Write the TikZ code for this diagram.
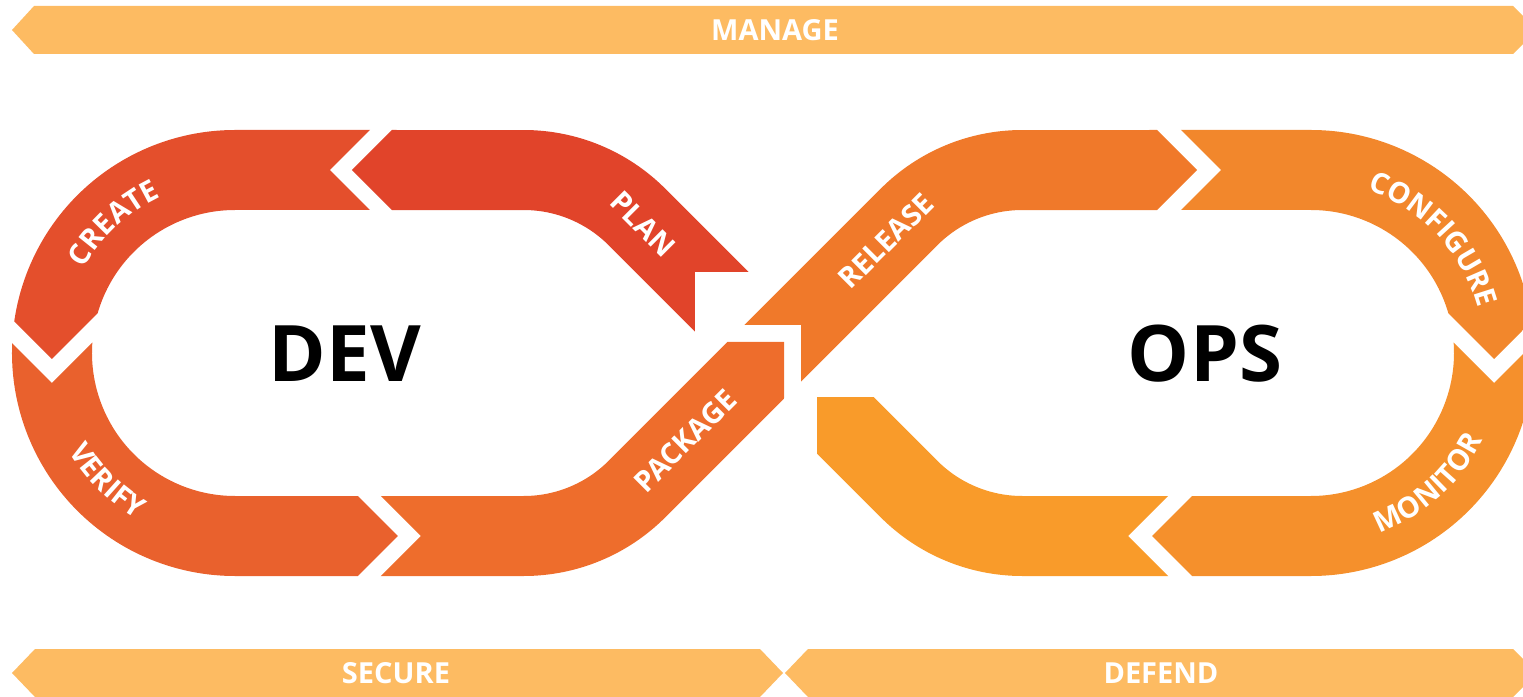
\documentclass[tikz,border=0pt]{standalone}
\usepackage{fontspec}
\setmainfont{Open Sans}
\usetikzlibrary{decorations.text}
\definecolor{cPlan}{HTML}{E1442A}
\definecolor{cCreate}{HTML}{E44F2C}
\definecolor{cVerify}{HTML}{E9612D}
\definecolor{cPackage}{HTML}{EE6D2C}
\definecolor{cRelease}{HTML}{F0792A}
\definecolor{cConfig}{HTML}{F2872C}
\definecolor{cMonitor}{HTML}{F5902C}
\definecolor{cLast}{HTML}{F99B2A}
\definecolor{cBar}{HTML}{FDBB62}
\newcommand\lblfont{\fontsize{29}{29}\selectfont\bfseries\color{white}}
\begin{document}
\begin{tikzpicture}[x=1pt,y=1pt,
  band/.style={line width=80pt},
  lbl/.style={font=\lblfont, inner sep=0pt},
  barlbl/.style={font=\fontsize{29}{29}\selectfont\bfseries, text=white, inner sep=0pt},
  big/.style={font=\fontsize{78}{78}\selectfont\bfseries, text=black, inner sep=0pt}]
\useasboundingbox (-773,-343) rectangle (750,353);
\clip (-773,-343) rectangle (750,353);
\coordinate (L) at (-538,0);
\coordinate (R) at (538,0);

% bars
\fill[cBar] (-761,323) -- (-739,347) -- (740,347) -- (764,323) -- (740,299) -- (-739,299) -- cycle;
\fill[cBar] (-761,-320) -- (-738,-296) -- (-13,-296) -- (10,-320) -- (-13,-344) -- (-738,-344) -- cycle;
\fill[cBar] (12,-320) -- (35,-296) -- (740,-296) -- (764,-320) -- (740,-344) -- (35,-344) -- cycle;
\node[barlbl] (manage) at (2,323) {MANAGE};
\node[barlbl] (secure) at (-377,-320) {SECURE};
\node[barlbl] (defend) at (388,-320) {DEFEND};

% PLAN
\begin{scope}
\clip (-78,-40) -- (-78,81) -- (40,81) -- (40,300) -- (-300,300) -- (-351,253) -- (-421,183) -- (-351,113) -- (-300,-40) -- cycle;
\draw[band, cPlan] (0,0) -- (-136.13,136.13) arc[start angle=45, end angle=90, radius=160] -- (-470,183);
\end{scope}
% CREATE
\begin{scope}
\clip (-373,113) -- (-443,183) -- (-373,253) -- (-800,253) -- (-800,64) -- (-791,64) -- (-721,-6) -- (-651,64) -- cycle;
\draw[band, cCreate] (-400,183) -- (-538,183) arc[start angle=90, end angle=200, radius=183];
\end{scope}
% VERIFY
\begin{scope}
\clip (-791,40) -- (-721,-30) -- (-651,40) -- (-445,-113) -- (-375,-183) -- (-445,-253) -- (-800,-253) -- (-800,40) -- cycle;
\draw[band, cVerify] (L) ++(165:183) arc[start angle=165, end angle=270, radius=183] -- (-330,-183);
\end{scope}
% PACKAGE
\begin{scope}
\clip (-422,-113) -- (-352,-183) -- (-422,-253) -- (11,-253) -- (11,11) -- (-88,11) -- cycle;
\draw[band, cPackage] (-400,-183) -- (-249.27,-183) arc[start angle=270, end angle=315, radius=160] -- (40,40);
\end{scope}
% RELEASE
\begin{scope}
\clip (-60,28) -- (28,28) -- (28,-60) -- (120,-60) -- (354,113) -- (424,183) -- (354,253) -- (-60,253) -- cycle;
\draw[band, cRelease] (-10,-10) -- (136.13,136.13) arc[start angle=135, end angle=90, radius=160] -- (470,183);
\end{scope}
% CONFIGURE
\begin{scope}
\clip (378,113) -- (448,183) -- (378,253) -- (800,253) -- (800,64) -- (791,64) -- (721,-6) -- (651,64) -- cycle;
\draw[band, cConfig] (400,183) -- (538,183) arc[start angle=90, end angle=-20, radius=183];
\end{scope}
% MONITOR
\begin{scope}
\clip (651,40) -- (721,-30) -- (791,40) -- (800,40) -- (800,-253) -- (449,-253) -- (379,-183) -- (449,-113) -- cycle;
\draw[band, cMonitor] (R) ++(15:183) arc[start angle=15, end angle=-90, radius=183] -- (330,-183);
\end{scope}
% last segment
\begin{scope}
\clip (425,-113) -- (355,-183) -- (425,-253) -- (44,-253) -- (44,-44) -- (143,-44) -- cycle;
\draw[band, cLast] (400,-183) -- (249.27,-183) arc[start angle=270, end angle=225, radius=160] -- (0,0);
\end{scope}

% labels on curves
\path[decorate, decoration={text along path, text={|\lblfont|CREATE}, text align=center}]
  (L) ++(168:173) arc[start angle=168, end angle=98, radius=173];
\path[decorate, decoration={text along path, text={|\lblfont|VERIFY}, text align=center}]
  (L) ++(190:193) arc[start angle=190, end angle=260, radius=193];
\path[decorate, decoration={text along path, text={|\lblfont|CONFIGURE}, text align=center}]
  (R) ++(83:173) arc[start angle=83, end angle=3, radius=173];
\path[decorate, decoration={text along path, text={|\lblfont|MONITOR}, text align=center}]
  (R) ++(-83:193) arc[start angle=-83, end angle=-13, radius=193];

% straight labels
\node[lbl, rotate=-45] (plan) at (-130,129) {PLAN};
\node[lbl, rotate=45] (package) at (-88,-88) {PACKAGE};
\node[lbl, rotate=45] (release) at (113,112) {RELEASE};

\node[big] (dev) at (-428,-1) {DEV};
\node[big] (ops) at (432,-1) {OPS};
\end{tikzpicture}
\end{document}
